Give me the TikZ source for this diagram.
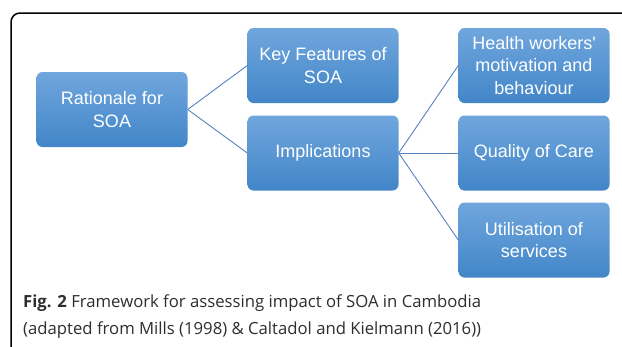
\documentclass[tikz,border=0pt]{standalone}
\usepackage{fontspec}
\setmainfont{Liberation Sans}
\newfontfamily\capfont{Open Sans}
\definecolor{boxtop}{RGB}{112,166,221}
\definecolor{boxbot}{RGB}{66,134,200}
\definecolor{linkc}{RGB}{84,132,192}
\tikzset{
  boxnode/.style={rounded corners=6pt, minimum width=151pt, minimum height=75pt,
    top color=boxtop, bottom color=boxbot, draw=none, text=white, align=center,
    font=\fontsize{18}{22.5}\selectfont, inner sep=0pt},
  link/.style={draw=linkc, line width=0.9pt},
  captext/.style={anchor=base west, inner sep=0pt, font=\capfont\fontsize{16.7}{20}\selectfont, text=black!82}
}
\begin{document}
\begin{tikzpicture}[x=1pt,y=-1pt]
\useasboundingbox (0,0) rectangle (622,346);
\clip (0,0) rectangle (622,346);
\fill[white] (0,0) rectangle (622,346);
\draw[line width=1.5pt, rounded corners=9pt] (11,360) -- (11,13) -- (640,13);
\node[boxnode] (rat) at (112,109.5) {Rationale for\\SOA};
\node[boxnode] (key) at (323,65.5) {Key Features of\\SOA};
\node[boxnode] (imp) at (323,153) {Implications};
\node[boxnode] (hw) at (534,65.5) {Health workers\textquotesingle\\motivation and\\behaviour};
\node[boxnode] (qc) at (534,153) {Quality of Care};
\node[boxnode] (ut) at (534,240) {Utilisation of\\services};
\draw[link] (rat.east) -- (key.west);
\draw[link] (rat.east) -- (imp.west);
\draw[link] (imp.east) -- (hw.west);
\draw[link] (imp.east) -- (qc.west);
\draw[link] (imp.east) -- (ut.west);
\node[captext] (cap1) at (23,307) {\textbf{Fig. 2} Framework for assessing impact of SOA in Cambodia};
\node[captext] (cap2) at (23,334) {(adapted from Mills (1998) \& Caltadol and Kielmann (2016))};
\end{tikzpicture}
\end{document}
